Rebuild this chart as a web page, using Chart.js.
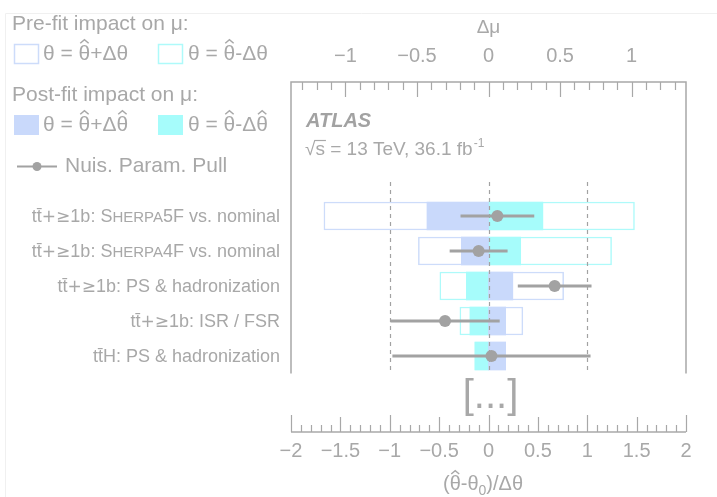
<!DOCTYPE html>
<html>
<head>
<meta charset="utf-8">
<script src="https://cdn.jsdelivr.net/npm/chart.js@4.4.1/dist/chart.umd.min.js"></script>
<style>
  html, body { margin: 0; padding: 0; background: #fff; }
</style>
</head>
<body>
<canvas id="ranking" width="717" height="497"></canvas>
<script>
// nuisance parameters, top to bottom ([..] = small caps)
const paramLabels = [
    'tt\u0304+\u22651b: S[HERPA]5F vs. nominal',
    'tt\u0304+\u22651b: S[HERPA]4F vs. nominal',
    'tt\u0304+\u22651b: PS & hadronization',
    'tt\u0304+\u22651b: ISR / FSR',
    'tt\u0304H: PS & hadronization'
];
// impact on mu (top axis)
const preFitUp = [-1.15, -0.49, 0.525, 0.24, 0.12];
const preFitDown = [1.02, 0.86, -0.34, -0.20, -0.095];
const postFitUp = [-0.43, -0.19, 0.17, 0.12, 0.12];
const postFitDown = [0.38, 0.225, -0.155, -0.13, -0.095];
// pulls (bottom axis)
const pulls = [0.09, -0.10, 0.67, -0.44, 0.03];
const pullErrors = [0.37, 0.29, 0.37, 0.55, 1.0];
// axis ranges
const muRange = [-1.38, 1.38];
const pullRange = [-2, 2];

const GRAY = '#a8a8a8';
const DARK = '#a2a2a2';
const BLUE_FILL = '#c9d9fb';
const CYAN_FILL = '#a6fcfb';
const BLUE_EDGE = '#cddcfa';
const CYAN_EDGE = '#aefafa';
const FONT = "'Liberation Sans', Arial, sans-serif";
const MATH = "'DejaVu Sans', sans-serif";

const minus = v => (v < 0 ? '\u2212' + Math.abs(v) : String(v));

function hat(ctx, cx, base, size) {
    const w = size * 0.2;
    ctx.save();
    ctx.strokeStyle = ctx.fillStyle;
    ctx.lineWidth = Math.max(1, size * 0.07);
    ctx.beginPath();
    ctx.moveTo(cx - w, base - size * 0.8);
    ctx.lineTo(cx, base - size * 0.97);
    ctx.lineTo(cx + w, base - size * 0.8);
    ctx.stroke();
    ctx.restore();
}

// text with combining hats drawn by hand, returns the end x
function hatText(ctx, text, x, base, size) {
    const chars = Array.from(text);
    chars.forEach((c, i) => {
        if (c === '\u0302') return;
        const w = ctx.measureText(c).width;
        ctx.fillText(c, x, base);
        if (chars[i + 1] === '\u0302') hat(ctx, x + w / 2, base, size);
        x += w;
    });
    return x;
}

function drawLabel(ctx, text, right, y) {
    // split into pieces: small caps inside [], math glyphs in another font
    const pieces = [];
    text.split(/[\[\]]/).forEach((p, i) => {
        if (i % 2) { pieces.push({ t: p, f: '15px ' + FONT }); return; }
        p.split(/(\+\u2265)/).forEach(q => {
            if (!q) return;
            pieces.push({ t: q, f: q === '+\u2265' ? '17px ' + MATH : '18px ' + FONT });
        });
    });
    let total = 0;
    pieces.forEach(p => {
        ctx.font = p.f;
        p.w = ctx.measureText(p.t).width;
        total += p.w;
    });
    let x = right - total;
    ctx.textBaseline = 'alphabetic';
    ctx.textAlign = 'left';
    pieces.forEach(p => {
        ctx.font = p.f;
        ctx.fillText(p.t, x, y + 6);
        x += p.w;
    });
}

const decorations = {
    id: 'decorations',
    beforeDatasetDraw(chart, args) {
        if (chart.data.datasets[args.index].label !== 'pullErr') return;
        const { ctx, scales } = chart;
        ctx.save();
        ctx.strokeStyle = DARK;
        ctx.lineWidth = 1.2;
        ctx.setLineDash([4, 4]);
        [-1, 0, 1].forEach(v => {
            const px = Math.round(scales.x.getPixelForValue(v)) + 0.5;
            ctx.beginPath();
            ctx.moveTo(px, scales.y.getPixelForValue(-0.97));
            ctx.lineTo(px, scales.y.getPixelForValue(4.46));
            ctx.stroke();
        });
        ctx.restore();
    },
    afterDraw(chart) {
        const { ctx, chartArea: a, scales } = chart;
        const { x, x2, y } = scales;
        ctx.save();

        // frame, cut below the last row
        const frameBottom = y.getPixelForValue(4.5);
        ctx.strokeStyle = GRAY;
        ctx.lineWidth = 1.5;
        ctx.beginPath();
        ctx.moveTo(a.left, frameBottom);
        ctx.lineTo(a.left, a.top);
        ctx.lineTo(a.right, a.top);
        ctx.lineTo(a.right, frameBottom);
        ctx.stroke();

        // top axis ticks (delta mu)
        ctx.lineWidth = 1.2;
        ctx.beginPath();
        for (let i = -13; i <= 13; i++) {
            const px = Math.round(x2.getPixelForValue(i / 10)) + 0.5;
            ctx.moveTo(px, a.top);
            ctx.lineTo(px, a.top + (i % 5 === 0 ? 15 : 8));
        }
        ctx.stroke();

        // bottom axis (pulls)
        ctx.lineWidth = 1.5;
        ctx.beginPath();
        ctx.moveTo(a.left, a.bottom);
        ctx.lineTo(a.right, a.bottom);
        ctx.stroke();
        ctx.lineWidth = 1.2;
        ctx.beginPath();
        for (let i = -20; i <= 20; i++) {
            const px = Math.round(x.getPixelForValue(i / 10)) + 0.5;
            const len = i % 10 === 0 ? 17 : (i % 5 === 0 ? 15 : 7);
            ctx.moveTo(px, a.bottom);
            ctx.lineTo(px, a.bottom - len);
        }
        ctx.stroke();

        // bottom axis title (theta-hat - theta0)/delta theta
        ctx.fillStyle = GRAY;
        ctx.font = '20px ' + FONT;
        ctx.textAlign = 'left';
        ctx.textBaseline = 'alphabetic';
        let tx = 443, tb = 490;
        tx = hatText(ctx, '(\u03B8\u0302-\u03B8', tx, tb, 20);
        ctx.font = '14px ' + FONT;
        ctx.fillText('0', tx, tb + 5);
        tx += ctx.measureText('0').width;
        ctx.font = '20px ' + FONT;
        ctx.fillText(')/\u0394\u03B8', tx, tb);

        // [...] break marker
        ctx.font = '40px ' + FONT;
        ctx.textAlign = 'center';
        ctx.fillText('[...]', x.getPixelForValue(0.02), 408);

        // parameter names
        paramLabels.forEach((t, i) => drawLabel(ctx, t, a.left - 11, y.getPixelForValue(i)));

        // ATLAS label
        ctx.textAlign = 'left';
        ctx.font = 'italic bold 20px ' + FONT;
        ctx.fillStyle = DARK;
        ctx.fillText('ATLAS', 306, 127);
        ctx.font = '19px ' + FONT;
        ctx.fillStyle = GRAY;
        const lumi = '\u221As = 13 TeV, 36.1 fb';
        ctx.fillText(lumi, 305, 155);
        const lw = ctx.measureText(lumi).width;
        const sw = ctx.measureText('\u221A').width;
        ctx.lineWidth = 1.2;
        ctx.strokeStyle = GRAY;
        ctx.beginPath();
        ctx.moveTo(305 + sw - 1, 140.5);
        ctx.lineTo(305 + sw + ctx.measureText('s').width + 1, 140.5);
        ctx.stroke();
        ctx.font = '12px ' + FONT;
        ctx.fillText('-1', 305 + lw + 1, 147);

        // legend
        ctx.font = '21px ' + FONT;
        ctx.fillStyle = GRAY;
        ctx.fillText('Pre-fit impact on \u03BC:', 12, 30);
        ctx.fillText('Post-fit impact on \u03BC:', 12, 101);
        ctx.lineWidth = 1.5;
        ctx.fillStyle = '#fff';
        ctx.strokeStyle = BLUE_EDGE;
        ctx.fillRect(14, 44, 25, 20);
        ctx.strokeRect(14.5, 44.5, 24, 19);
        ctx.strokeStyle = CYAN_EDGE;
        ctx.strokeRect(158.5, 44.5, 24, 19);
        ctx.fillStyle = BLUE_FILL;
        ctx.fillRect(14, 115, 25, 20);
        ctx.fillStyle = CYAN_FILL;
        ctx.fillRect(158, 115, 25, 20);
        ctx.fillStyle = GRAY;
        hatText(ctx, '\u03B8 = \u03B8\u0302+\u0394\u03B8', 43, 60, 21);
        hatText(ctx, '\u03B8 = \u03B8\u0302-\u0394\u03B8', 188, 60, 21);
        hatText(ctx, '\u03B8 = \u03B8\u0302+\u0394\u03B8\u0302', 43, 131, 21);
        hatText(ctx, '\u03B8 = \u03B8\u0302-\u0394\u03B8\u0302', 188, 131, 21);
        ctx.fillText('Nuis. Param. Pull', 65, 172);
        ctx.strokeStyle = DARK;
        ctx.lineWidth = 2;
        ctx.beginPath();
        ctx.moveTo(17, 166.5);
        ctx.lineTo(57, 166.5);
        ctx.stroke();
        ctx.fillStyle = DARK;
        ctx.beginPath();
        ctx.arc(37, 166.5, 4.5, 0, Math.PI * 2);
        ctx.fill();

        // edge of the pasted figure
        ctx.strokeStyle = '#f0f0f0';
        ctx.lineWidth = 1;
        ctx.beginPath();
        ctx.moveTo(5.5, 497);
        ctx.lineTo(5.5, 13.5);
        ctx.lineTo(717, 13.5);
        ctx.stroke();

        ctx.restore();
    }
};

const rowBars = vals => vals.map((v, i) => ({ x: [0, v], y: i }));
const barStyle = { type: 'bar', indexAxis: 'y', xAxisID: 'x2', yAxisID: 'y', barThickness: 28, grouped: false, borderSkipped: false };

const ctx = document.getElementById('ranking').getContext('2d');
new Chart(ctx, {
    type: 'bar',
    data: {
        datasets: [
            { ...barStyle, label: 'preUp', data: rowBars(preFitUp), backgroundColor: '#fff', borderColor: BLUE_EDGE, borderWidth: 1.5, order: 4 },
            { ...barStyle, label: 'preDown', data: rowBars(preFitDown), backgroundColor: '#fff', borderColor: CYAN_EDGE, borderWidth: 1.5, order: 3 },
            { ...barStyle, label: 'postUp', data: rowBars(postFitUp), backgroundColor: BLUE_FILL, borderWidth: 0, order: 2 },
            { ...barStyle, label: 'postDown', data: rowBars(postFitDown), backgroundColor: CYAN_FILL, borderWidth: 0, order: 2 },
            {
                type: 'bar', label: 'pullErr', indexAxis: 'y', xAxisID: 'x', yAxisID: 'y',
                data: pulls.map((p, i) => ({ x: [p - pullErrors[i], p + pullErrors[i]], y: i })),
                backgroundColor: DARK, barThickness: 2.5, grouped: false, order: 1
            },
            {
                type: 'scatter', label: 'pull', xAxisID: 'x', yAxisID: 'y',
                data: pulls.map((p, i) => ({ x: p, y: i })),
                backgroundColor: DARK, borderWidth: 0, pointRadius: 6, order: 0
            }
        ]
    },
    options: {
        responsive: false,
        animation: false,
        indexAxis: 'y',
        layout: { padding: { left: 291, right: 31, top: 0, bottom: 0 } },
        plugins: { legend: { display: false }, tooltip: { enabled: false } },
        scales: {
            x: {
                type: 'linear', position: 'bottom', min: pullRange[0], max: pullRange[1], offset: false,
                grid: { display: false }, border: { display: false },
                ticks: { stepSize: 0.5, color: GRAY, font: { family: FONT, size: 20 }, padding: -1, callback: minus },
                afterFit: s => { s.height = 65; }
            },
            x2: {
                type: 'linear', position: 'top', min: muRange[0], max: muRange[1], offset: false,
                grid: { display: false }, border: { display: false },
                ticks: { stepSize: 0.5, includeBounds: false, color: GRAY, font: { family: FONT, size: 20 }, padding: 6, callback: minus },
                title: { display: true, text: '\u0394\u03BC', color: GRAY, font: { family: FONT, size: 19 }, padding: { top: 16, bottom: 0 } },
                afterFit: s => { s.height = 82; }
            },
            y: {
                type: 'linear', reverse: true, min: -3.829, max: 6.171, offset: false, display: false
            }
        }
    },
    plugins: [decorations]
});
</script>
</body>
</html>
